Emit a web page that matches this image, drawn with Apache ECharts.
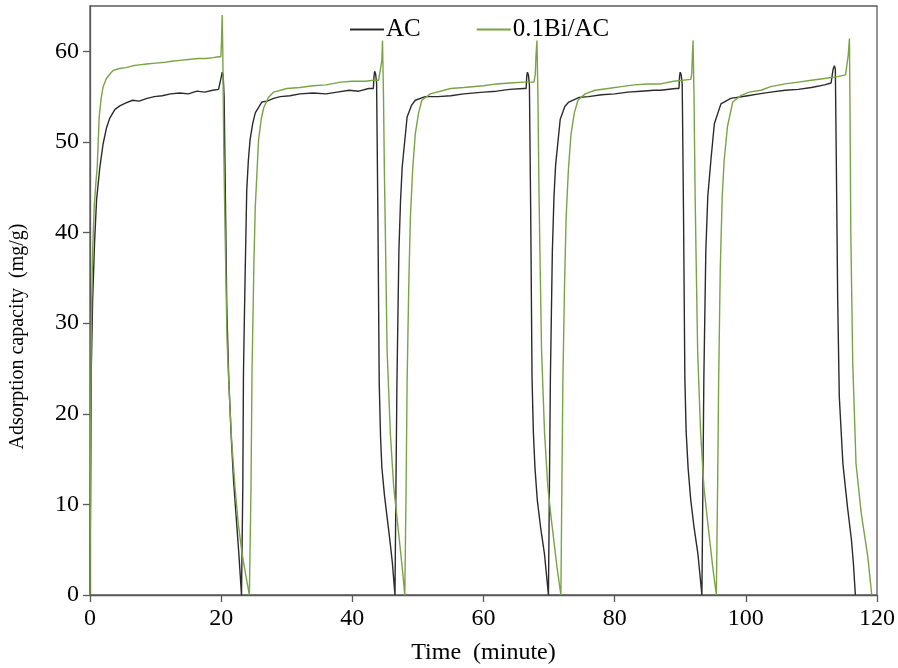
<!DOCTYPE html>
<html><head><meta charset="utf-8">
<script src="https://cdn.jsdelivr.net/npm/echarts@6/dist/echarts.min.js"></script>
<style>html,body{margin:0;padding:0;background:#fff}#c{width:898px;height:668px}</style>
</head><body><div id="c"></div>
<script>
// AC series (time in minutes, adsorption capacity mg/g)
const acTime = [
 0,0.1,0.2,0.4,0.7,1.0,1.5,2.0,2.5,3.0,3.8,4.6,5.5,6.5,7.5,8.7,9.8,11,12.3,13.7,15,16.3,17.5,18.7,19.6,19.9,20.05,20.15,20.3,20.45,20.6,20.85,21.15,21.5,21.9,22.3,22.7,23.1,
 23.2,23.3,23.4,23.55,23.66,23.9,24.15,24.4,24.8,25.2,26.2,27,28,29,30.5,32,34,36,37.7,39.5,41,42.5,43.2,43.3,43.4,43.55,43.7,43.9,44.1,44.3,44.5,44.9,45.3,45.7,46.1,46.5,
 46.65,46.8,47.1,47.35,47.6,48.35,49.0,49.6,51.1,53,55,57,60,62,64,66.1,66.5,66.6,66.7,66.85,67.0,67.2,67.4,67.6,67.85,68.2,68.7,69.3,69.9,
 70.05,70.2,70.5,70.75,71.0,71.7,72.4,73,74.5,76,78,80,82,84,86,87,89.3,89.8,89.9,90.0,90.15,90.3,90.5,90.7,90.9,91.2,91.6,92.1,92.7,93.3,
 93.45,93.6,93.9,94.2,94.7,95.2,96.2,97.7,100.3,102,103.8,106,108,110,112,113.0,113.3,113.5,113.65,113.8,114.0,114.25,114.8,115.5,116.1,116.4,116.7
];
const acValue = [
 0,14,25,32.5,39,43.6,47.2,49.8,51.5,52.6,53.6,54.0,54.3,54.6,54.5,54.8,55.0,55.1,55.3,55.4,55.3,55.6,55.5,55.7,55.8,55.8,57.3,57.7,57.4,55,46.5,32,24,18,12.5,8.5,4.5,0,
 0,12,24.5,31,35.5,44.7,48,50.2,52,53.2,54.4,54.5,54.8,55,55.1,55.3,55.4,55.3,55.5,55.7,55.6,55.9,55.9,57.2,57.8,57.5,56.5,41.7,23.4,17.5,14.1,11,8.6,6.2,3.6,0,
 12,23.4,38,43.5,47.2,52.75,54,54.6,55,55.0,55.1,55.3,55.5,55.6,55.8,55.9,55.9,57.3,57.7,57.4,56.3,42,24,18,14,10.5,7.5,4.5,0,
 12,24,38,44,47.5,52.5,53.9,54.4,54.9,55.0,55.2,55.3,55.5,55.6,55.7,55.7,55.9,55.9,57.3,57.7,57.4,56.3,42,24,18,14,10.5,7.5,4.5,0,
 12,24,38,44,48.2,52,54.2,54.8,55.1,55.3,55.5,55.7,55.8,56.0,56.3,56.5,58,58.4,58.0,47.6,32.9,21.9,14.5,9.7,6.1,3.5,0
];
// 0.1Bi/AC series
const biTime = [
 0,0.1,0.2,0.4,0.65,0.9,1.1,1.4,1.7,2.0,2.5,3.05,3.56,4.5,5.5,6.5,7.5,8.65,10,11.5,12.5,13.7,15,16.5,17.7,18.8,19.6,19.95,20.05,20.15,20.25,20.4,20.6,20.9,21.25,21.6,22.1,22.6,23.2,23.7,24.3,
 24.4,24.55,24.7,25.0,25.2,25.7,26.1,26.5,27.2,28,30,32,34,36,38.2,40,42,43.25,44.0,44.3,44.5,44.6,44.75,44.9,45.0,45.3,45.8,46.3,46.8,47.6,48.0,
 48.2,48.35,48.6,48.85,49.2,49.6,50.1,50.6,51.9,52.2,55,57,60,62,64,66.1,67.7,67.9,68.0,68.15,68.3,68.45,68.6,68.85,69.3,69.8,70.3,71.2,71.8,
 71.95,72.1,72.35,72.6,72.95,73.35,73.85,74.4,75.5,77,79,81,83,85,87,89,91.6,91.75,91.85,91.95,92.1,92.25,92.4,92.65,93.1,93.6,94.1,94.95,95.5,
 95.7,95.85,96.1,96.4,96.7,97.2,98,99.2,100.5,102.3,103.8,106,108,110,112,114,115.2,115.45,115.6,115.8,115.9,116.0,116.3,116.8,117.6,118.6,119.2
];
const biValue = [
 0,18,30,38,43,45.5,47.2,52.75,54.8,56.1,57,57.5,57.9,58.1,58.2,58.4,58.5,58.6,58.7,58.8,58.9,59.0,59.1,59.2,59.2,59.3,59.4,59.4,61,64,60,49,40,28,22,17,12,7.9,4.5,2.4,0,
 0,12,24.5,37,42.8,50.2,52.5,53.8,54.9,55.5,55.9,56.0,56.2,56.3,56.6,56.7,56.7,56.8,56.8,57,59,61.2,55,46,41.7,27,17.8,12,8.6,3.1,0,
 12,23.4,34,41.7,47,50.9,53.2,54.6,55.3,55.5,55.9,56.0,56.2,56.4,56.5,56.6,56.6,57.5,59.5,61.2,55,45,38,27,18,12,8.6,3.1,0,
 12,23.4,34,41.7,47,50.9,53.2,54.6,55.3,55.7,55.9,56.1,56.3,56.4,56.4,56.7,56.9,57.5,59.5,61.2,55,45,38,27,18,12,8.6,3.1,0,
 12,23.4,36,44,48,51.7,54.4,55.1,55.5,55.7,56.1,56.4,56.6,56.8,57.0,57.2,57.4,57.3,59.5,61.4,52,40.3,25.6,14.5,9,4.2,0
];
const seriesNames = ['AC', '0.1Bi/AC'];
const xTicks = [0, 20, 40, 60, 80, 100, 120];
const yTicks = [0, 10, 20, 30, 40, 50, 60];

const zip = (a, b) => a.map((t, i) => [t, b[i]]);
const font = 'Liberation Serif';
const chart = echarts.init(document.getElementById('c'));
chart.setOption({
  animation: false,
  backgroundColor: '#fff',
  grid: { left: 90, top: 6, right: 21, bottom: 73, outerBoundsMode: 'none', containLabel: false,
          show: true, borderColor: '#595959', borderWidth: 1.3 },
  legend: {
    left: 345, top: 12, itemWidth: 34, itemHeight: 2, itemGap: 56, icon: 'rect',
    textStyle: { fontFamily: font, fontSize: 25, color: '#000', padding: [0, 0, 0, -3] },
    data: seriesNames
  },
  xAxis: {
    type: 'value', min: 0, max: 120, interval: 20,
    name: 'Time  (minute)', nameLocation: 'middle', nameGap: 46,
    nameTextStyle: { fontFamily: font, fontSize: 24, color: '#000' },
    axisLine: { lineStyle: { color: '#595959', width: 1.3 } },
    axisTick: { show: true, inside: false, length: 7, lineStyle: { color: '#595959', width: 1.3 }, customValues: xTicks },
    axisLabel: { fontFamily: font, fontSize: 24, color: '#000', margin: 12, customValues: xTicks },
    splitLine: { show: false }
  },
  yAxis: {
    type: 'value', min: 0, max: 65, interval: 10,
    name: 'Adsorption capacity  (mg/g)', nameLocation: 'middle', nameGap: 62, nameRotate: 90,
    nameTextStyle: { fontFamily: font, fontSize: 20, color: '#000', padding: [0, 72, 0, 0] },
    axisLine: { show: true, lineStyle: { color: '#595959', width: 1.3 } },
    axisTick: { show: true, inside: false, length: 7, lineStyle: { color: '#595959', width: 1.3 }, customValues: yTicks },
    axisLabel: { fontFamily: font, fontSize: 24, color: '#000', margin: 11, customValues: yTicks },
    splitLine: { show: false }
  },
  series: [
    { name: seriesNames[0], type: 'line', data: zip(acTime, acValue), showSymbol: false, symbol: 'none',
      lineStyle: { color: '#2b2b2b', width: 1.4 }, itemStyle: { color: '#2b2b2b' } },
    { name: seriesNames[1], type: 'line', data: zip(biTime, biValue), showSymbol: false, symbol: 'none',
      lineStyle: { color: '#7aa346', width: 1.4 }, itemStyle: { color: '#7aa346' } }
  ]
});
</script></body></html>
